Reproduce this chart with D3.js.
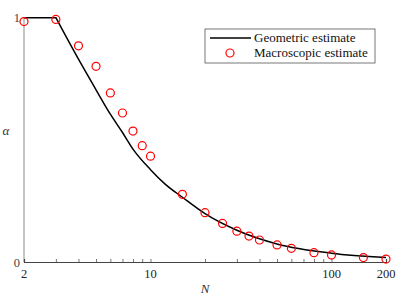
<!DOCTYPE html>
<html>
<head>
<meta charset="utf-8">
<script src="https://cdn.jsdelivr.net/npm/d3@7"></script>
<style>
  html, body { margin: 0; padding: 0; background: #fff; }
  svg { display: block; }
  text { font-family: "Liberation Serif", "DejaVu Serif", serif; }
</style>
</head>
<body>
<div id="chart"></div>
<script>
// Geometric estimate (line)
const lineN     = [2, 3, 4, 5, 6, 7, 8, 10, 12, 15, 20, 30, 50, 100, 200];
const lineAlpha = [1, 1, 0.83, 0.705, 0.605, 0.53, 0.462, 0.378, 0.32, 0.265, 0.198, 0.13, 0.074, 0.036, 0.018];

// Macroscopic estimate (circles)
const pointN     = [2, 3, 4, 5, 6, 7, 8, 9, 10, 15, 20, 25, 30, 35, 40, 50, 60, 80, 100, 150, 200];
const pointAlpha = [0.984, 0.993, 0.885, 0.801, 0.692, 0.61, 0.536, 0.476, 0.433, 0.277, 0.202, 0.158, 0.126, 0.106, 0.09, 0.07, 0.056, 0.038, 0.029, 0.018, 0.012];

const xTickLabels = [2, 10, 100, 200];
const yTickLabels = [0, 1];
const minorTicks  = [3, 4, 5, 6, 7, 8, 9, 10, 20, 30, 40, 50, 60, 70, 80, 90, 100];
const legendLabels = ["Geometric estimate", "Macroscopic estimate"];

const W = 399, H = 299;
const svg = d3.select("#chart").append("svg").attr("width", W).attr("height", H);

const x = d3.scaleLog().domain([2, 200]).range([24, 386]);
const y = d3.scaleLinear().domain([0, 1]).range([262, 17.7]);

// left axis (gray)
svg.append("line")
  .attr("x1", x(2)).attr("x2", x(2))
  .attr("y1", y(0)).attr("y2", y(1))
  .attr("stroke", "#a0a0a0").attr("stroke-width", 1.2);

// bottom axis
const xAxis = d3.axisBottom(x).tickValues(minorTicks).tickSize(-3).tickFormat("");
const gx = svg.append("g").attr("transform", `translate(0,${y(0)})`).call(xAxis);
gx.select(".domain").attr("stroke", "#444").attr("stroke-width", 1.2);
gx.selectAll(".tick line").attr("stroke", "#555").attr("stroke-width", 0.8);

// x tick labels
svg.append("g").selectAll("text").data(xTickLabels).join("text")
  .attr("x", d => x(d)).attr("y", 278)
  .attr("text-anchor", "middle")
  .attr("font-size", 12.5).attr("fill", "#222")
  .text(d => d);

// y tick labels
svg.append("g").selectAll("text").data(yTickLabels).join("text")
  .attr("x", 20).attr("y", d => y(d) + 4.5)
  .attr("text-anchor", "end")
  .attr("font-size", 12.5).attr("fill", "#444")
  .text(d => d);

// axis titles
svg.append("text").attr("x", 6).attr("y", 135)
  .attr("text-anchor", "middle").attr("font-size", 13).attr("font-style", "italic").attr("fill", "#333")
  .text("α");
svg.append("text").attr("x", 205).attr("y", 293)
  .attr("text-anchor", "middle").attr("font-size", 13).attr("font-style", "italic").attr("fill", "#333")
  .text("N");

// geometric line: flat part drawn straight, decaying part smooth
const lineData = lineN.map((n, i) => [n, lineAlpha[i]]);
const flat = lineData.filter(d => d[0] <= 3);
const decay = lineData.filter(d => d[0] >= 3);
const gen = c => d3.line().x(d => x(d[0])).y(d => y(d[1])).curve(c);
svg.append("path")
  .attr("fill", "none").attr("stroke", "#000").attr("stroke-width", 1.5)
  .attr("stroke-linejoin", "miter")
  .attr("d", gen(d3.curveLinear)(flat) + gen(d3.curveMonotoneX)(decay).replace(/^M/, "L"));

// circles
const pts = pointN.map((n, i) => [n, pointAlpha[i]]);
svg.append("g").selectAll("circle").data(pts).join("circle")
  .attr("cx", d => x(d[0])).attr("cy", d => y(d[1])).attr("r", 4)
  .attr("fill", "none").attr("stroke", "#ff0000").attr("stroke-width", 1.2);

// legend
const lg = svg.append("g");
lg.append("rect").attr("x", 205).attr("y", 29).attr("width", 170).attr("height", 34)
  .attr("fill", "#fff").attr("stroke", "#555").attr("stroke-width", 0.8);
lg.append("line").attr("x1", 210).attr("x2", 251).attr("y1", 38).attr("y2", 38)
  .attr("stroke", "#000").attr("stroke-width", 1.5);
lg.append("circle").attr("cx", 230).attr("cy", 53).attr("r", 4)
  .attr("fill", "none").attr("stroke", "#ff0000").attr("stroke-width", 1.2);
lg.selectAll("text").data(legendLabels).join("text")
  .attr("x", 254).attr("y", (d, i) => 42 + i * 15)
  .attr("font-size", 13).attr("fill", "#111")
  .text(d => d);
</script>
</body>
</html>
